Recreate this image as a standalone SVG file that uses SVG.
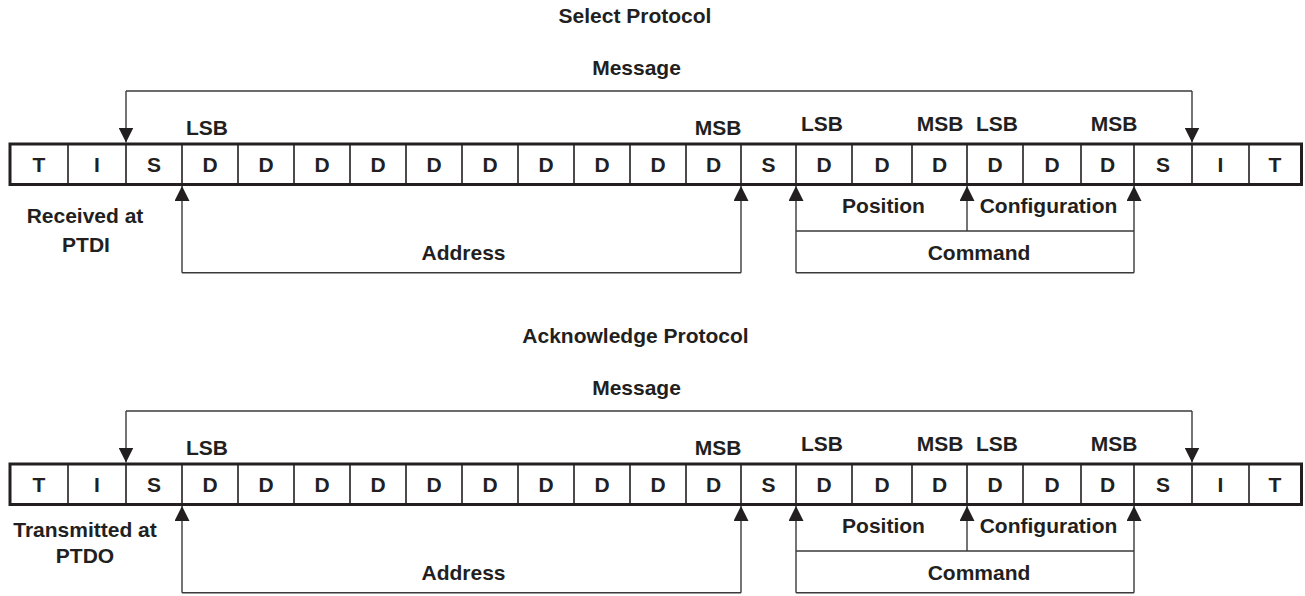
<svg xmlns="http://www.w3.org/2000/svg" width="1305" height="596" viewBox="0 0 1305 596">
<style>
text{font-family:"Liberation Sans",Arial,sans-serif;font-weight:bold;font-size:21px;fill:#231f20;text-anchor:middle}
.frame{fill:none;stroke:#231f20;stroke-width:3}
.div{stroke:#231f20;stroke-width:1.6}
.conn{fill:none;stroke:#3a3a3a;stroke-width:1.4}
</style>
<defs>
<marker id="ah" viewBox="0 0 16 16" refX="16" refY="8" markerWidth="15" markerHeight="15" markerUnits="userSpaceOnUse" orient="auto">
<path d="M0,0 L16,8 L0,16 z" fill="#231f20"/>
</marker>
<g id="section">
<g id="fields">
<rect class="frame" x="10" y="144" width="1291.5" height="40.5"/>
<path class="div" d="M68,144V184.5M126,144V184.5M182,144V184.5M238,144V184.5M294,144V184.5M350,144V184.5M406,144V184.5M462,144V184.5M518,144V184.5M574,144V184.5M630,144V184.5M686,144V184.5M741,144V184.5M796,144V184.5M852,144V184.5M912,144V184.5M967,144V184.5M1023,144V184.5M1081,144V184.5M1134,144V184.5M1192,144V184.5M1249,144V184.5"/>
<text x="39" y="172">T</text>
<text x="97" y="172">I</text>
<text x="154" y="172">S</text>
<text x="210" y="172">D</text>
<text x="266" y="172">D</text>
<text x="322" y="172">D</text>
<text x="378" y="172">D</text>
<text x="434" y="172">D</text>
<text x="490" y="172">D</text>
<text x="546" y="172">D</text>
<text x="602" y="172">D</text>
<text x="658" y="172">D</text>
<text x="713.5" y="172">D</text>
<text x="768.5" y="172">S</text>
<text x="824" y="172">D</text>
<text x="882" y="172">D</text>
<text x="939.5" y="172">D</text>
<text x="995" y="172">D</text>
<text x="1052" y="172">D</text>
<text x="1107.5" y="172">D</text>
<text x="1163" y="172">S</text>
<text x="1220.5" y="172">I</text>
<text x="1275" y="172">T</text>
</g>
<g id="bit-labels">
<text x="207" y="135">LSB</text>
<text x="718" y="135">MSB</text>
<text x="822" y="131">LSB</text>
<text x="940" y="131">MSB</text>
<text x="997" y="131">LSB</text>
<text x="1114" y="131">MSB</text>
</g>
<g id="connectors">
<path class="conn" d="M126,91H1192" />
<path class="conn" d="M126,91V142.5" marker-end="url(#ah)"/>
<path class="conn" d="M1192,91V142.5" marker-end="url(#ah)"/>
<path class="conn" d="M182,272.7V186" marker-end="url(#ah)"/>
<path class="conn" d="M741,272.7V186" marker-end="url(#ah)"/>
<path class="conn" d="M182,272.7H741"/>
<path class="conn" d="M796,272.7V186" marker-end="url(#ah)"/>
<path class="conn" d="M1134,272.7V186" marker-end="url(#ah)"/>
<path class="conn" d="M967,231V186" marker-end="url(#ah)"/>
<path class="conn" d="M796,231H1134M796,272.7H1134"/>
</g>
<g id="bracket-labels">
<text x="636.5" y="75">Message</text>
<text x="463.5" y="260">Address</text>
<text x="883.5" y="213">Position</text>
<text x="1048.5" y="213">Configuration</text>
<text x="979" y="260">Command</text>
</g>
</g>
</defs>
<g id="select-protocol">
<text x="635" y="23">Select Protocol</text>
<use href="#section"/>
<g id="received-label">
<text x="85" y="223">Received at</text>
<text x="86" y="252">PTDI</text>
</g>
</g>
<g id="acknowledge-protocol">
<text x="635.5" y="343">Acknowledge Protocol</text>
<use href="#section" transform="translate(0,320)"/>
<g id="transmitted-label">
<text x="85" y="537">Transmitted at</text>
<text x="85" y="563">PTDO</text>
</g>
</g>
</svg>
